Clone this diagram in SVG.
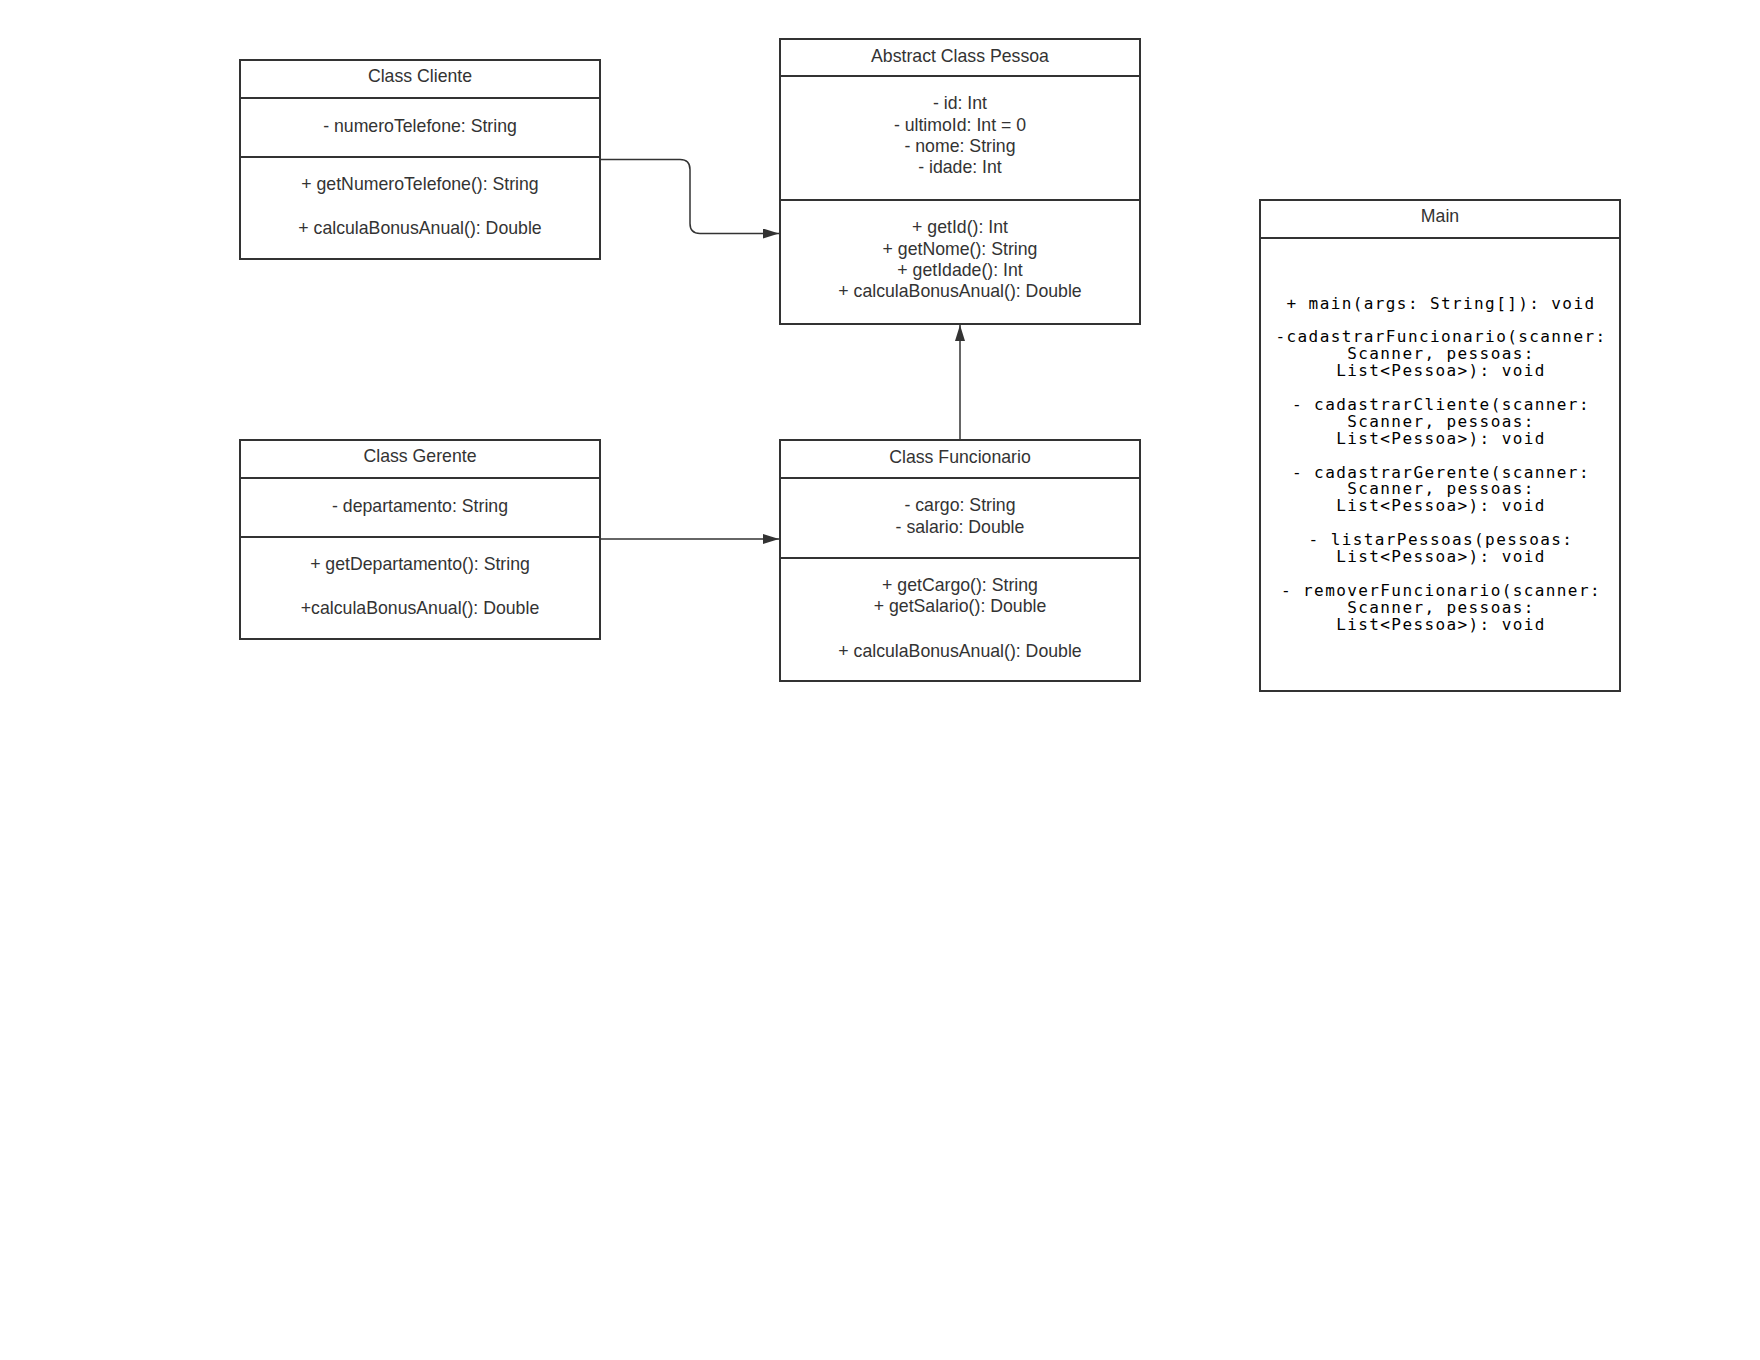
<svg xmlns="http://www.w3.org/2000/svg" width="1760" height="1360" viewBox="0 0 1760 1360">
<defs>
<marker id="arrow" markerUnits="userSpaceOnUse" markerWidth="16" markerHeight="10" refX="16" refY="5" orient="auto">
<path d="M0,0 L16,5 L0,10 Z" fill="#333"/>
</marker>
<style>
.box{fill:#fff;stroke:#333;stroke-width:2}
.sep{stroke:#333;stroke-width:2}
.t{font-family:"Liberation Sans",Arial,sans-serif;font-size:17.7px;fill:#333;text-anchor:middle}
.m{font-family:"DejaVu Sans Mono","Liberation Mono",monospace;font-size:16px;letter-spacing:1.4px;fill:#000;text-anchor:middle}
.c{fill:none;stroke:#333;stroke-width:1.5}
</style>
</defs>
<rect width="1760" height="1360" fill="#fff"/>
<g id="connectors">
<path class="c" d="M600,159.5 H680 Q690,159.5 690,169.5 V223.5 Q690,233.5 700,233.5 H779" marker-end="url(#arrow)"/>
<path class="c" d="M600,539 H779" marker-end="url(#arrow)"/>
<path class="c" d="M960,440 V325" marker-end="url(#arrow)"/>
</g>
<g id="cliente">
<rect class="box" x="240" y="60" width="360" height="199"/>
<line class="sep" x1="240" y1="98" x2="600" y2="98"/>
<line class="sep" x1="240" y1="157" x2="600" y2="157"/>
<text class="t" x="420" y="82.3">Class Cliente</text>
<text class="t" x="420" y="131.7">- numeroTelefone: String</text>
<text class="t" x="420" y="190">+ getNumeroTelefone(): String</text>
<text class="t" x="420" y="234.3">+ calculaBonusAnual(): Double</text>
</g>
<g id="pessoa">
<rect class="box" x="780" y="39" width="360" height="285"/>
<line class="sep" x1="780" y1="76" x2="1140" y2="76"/>
<line class="sep" x1="780" y1="200" x2="1140" y2="200"/>
<text class="t" x="960" y="61.7">Abstract Class Pessoa</text>
<text class="t" x="960" y="109">- id: Int</text>
<text class="t" x="960" y="131">- ultimoId: Int = 0</text>
<text class="t" x="960" y="152.3">- nome: String</text>
<text class="t" x="960" y="173.3">- idade: Int</text>
<text class="t" x="960" y="233.3">+ getId(): Int</text>
<text class="t" x="960" y="255">+ getNome(): String</text>
<text class="t" x="960" y="276">+ getIdade(): Int</text>
<text class="t" x="960" y="297.3">+ calculaBonusAnual(): Double</text>
</g>
<g id="gerente">
<rect class="box" x="240" y="440" width="360" height="199"/>
<line class="sep" x1="240" y1="478" x2="600" y2="478"/>
<line class="sep" x1="240" y1="537" x2="600" y2="537"/>
<text class="t" x="420" y="462.3">Class Gerente</text>
<text class="t" x="420" y="511.7">- departamento: String</text>
<text class="t" x="420" y="570">+ getDepartamento(): String</text>
<text class="t" x="420" y="614.3">+calculaBonusAnual(): Double</text>
</g>
<g id="funcionario">
<rect class="box" x="780" y="440" width="360" height="241"/>
<line class="sep" x1="780" y1="478" x2="1140" y2="478"/>
<line class="sep" x1="780" y1="558" x2="1140" y2="558"/>
<text class="t" x="960" y="462.5">Class Funcionario</text>
<text class="t" x="960" y="511.3">- cargo: String</text>
<text class="t" x="960" y="532.7">- salario: Double</text>
<text class="t" x="960" y="591">+ getCargo(): String</text>
<text class="t" x="960" y="612.3">+ getSalario(): Double</text>
<text class="t" x="960" y="656.5">+ calculaBonusAnual(): Double</text>
</g>
<g id="main">
<rect class="box" x="1260" y="200" width="360" height="491"/>
<line class="sep" x1="1260" y1="238" x2="1620" y2="238"/>
<text class="t" x="1440" y="222.3">Main</text>
<text class="m" x="1441" y="308.5">+ main(args: String[]): void</text>
<text class="m" x="1441" y="342.3">-cadastrarFuncionario(scanner:</text>
<text class="m" x="1441" y="359.2">Scanner, pessoas:</text>
<text class="m" x="1441" y="376.1">List&lt;Pessoa&gt;): void</text>
<text class="m" x="1441" y="409.9">- cadastrarCliente(scanner:</text>
<text class="m" x="1441" y="426.8">Scanner, pessoas:</text>
<text class="m" x="1441" y="443.7">List&lt;Pessoa&gt;): void</text>
<text class="m" x="1441" y="477.5">- cadastrarGerente(scanner:</text>
<text class="m" x="1441" y="494.4">Scanner, pessoas:</text>
<text class="m" x="1441" y="511.3">List&lt;Pessoa&gt;): void</text>
<text class="m" x="1441" y="545.1">- listarPessoas(pessoas:</text>
<text class="m" x="1441" y="562">List&lt;Pessoa&gt;): void</text>
<text class="m" x="1441" y="595.8">- removerFuncionario(scanner:</text>
<text class="m" x="1441" y="612.7">Scanner, pessoas:</text>
<text class="m" x="1441" y="629.6">List&lt;Pessoa&gt;): void</text>
</g>
</svg>
